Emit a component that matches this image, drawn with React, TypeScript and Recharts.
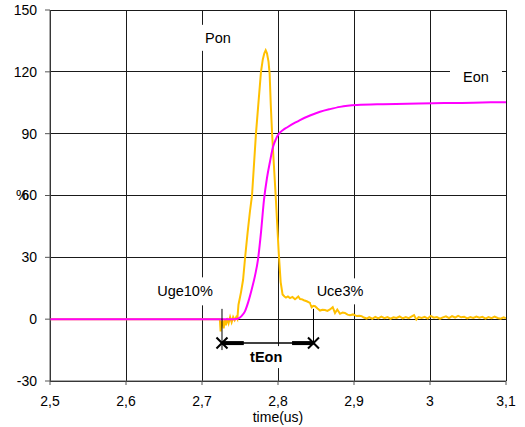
import React from 'react';
import { LineChart, Line, XAxis, YAxis, CartesianGrid, ReferenceLine, ReferenceDot } from 'recharts';

const ponTime = [
  2.5, 2.72, 2.7235, 2.7245, 2.7255, 2.727, 2.7285, 2.73, 2.7315, 2.733, 2.735, 2.737, 2.739, 2.741, 2.743, 2.745,
  2.7465, 2.748, 2.7513, 2.754, 2.757, 2.76, 2.763, 2.7658, 2.771, 2.7745, 2.7776, 2.78, 2.782, 2.7838, 2.7855,
  2.7875, 2.789, 2.7905, 2.7923, 2.797, 2.801, 2.8035, 2.806, 2.8085, 2.8105, 2.813, 2.8158, 2.819, 2.8224, 2.8245,
  2.8267, 2.829, 2.8312, 2.834, 2.8378, 2.8421, 2.8443, 2.8465, 2.8487, 2.852, 2.8553, 2.8585, 2.8618, 2.865, 2.8684,
  2.872, 2.875, 2.878, 2.8816, 2.885, 2.888, 2.8915, 2.8947, 2.8987, 2.9036, 2.907, 2.91, 2.913, 2.9167, 2.92, 2.924,
  2.928, 2.932, 2.936, 2.94, 2.944, 2.948, 2.952, 2.956, 2.96, 2.964, 2.968, 2.972, 2.976, 2.979, 2.982, 2.985, 2.989,
  2.993, 2.997, 3.001, 3.005, 3.009, 3.013, 3.017, 3.021, 3.025, 3.029, 3.033, 3.037, 3.041, 3.045, 3.049, 3.053,
  3.057, 3.061, 3.065, 3.069, 3.073, 3.077, 3.081, 3.085, 3.089, 3.093, 3.097, 3.1,
];
const ponValue = [
  0, 0, 0, -6, -2, -1, -4.5, -0.5, -3, 0.5, -2, 1, -1.5, 1, -0.5, 1,
  0, 7, 13, 19, 31, 42, 52, 60, 90, 106, 120, 126, 129, 130.5, 129,
  125, 119, 104, 89.5, 59.5, 32, 18, 12, 11, 10.5, 11, 10.2, 10.8, 9.7, 10.3,
  11, 9.8, 9.7, 9.2, 8.7, 7.9, 5.8, 6.5, 6.3, 5.2, 4.2, 4.6, 4.4, 4.0, 4.7,
  5.8, 3, 4.7, 2.6, 3.2, 3, 2.2, 1.9, 2.3, 1.5, 1.7, 1.5, 0.8, 0.3, 1.0, 0.2,
  1.1, 0.4, 1.2, 0.5, 1.0, 0.2, 0.9, 0.6, 1.3, 0.4, 1.0, 0.5, 1.4, 2.0, -0.2, 1.0, 0.6,
  1.1, 0.3, 1.6, 0.7, 1.0, 0.2, 0.9, 1.4, 0.5, 1.5, 0.8, 1.6, 0.9, 1.2, 0.4, 1.0,
  0.6, 1.3, 0.7, 1.1, 0.3, 1.0, 0.5, 1.2, 0.6, 0.2, 0.9, 0.4,
];

const eonTime = [
  2.5, 2.743, 2.748, 2.752, 2.7565, 2.761, 2.7658, 2.7697, 2.7737, 2.7776, 2.7816, 2.7855, 2.7895, 2.7934,
  2.7974, 2.8013, 2.8066, 2.8118, 2.8224, 2.8289, 2.8421, 2.8553, 2.8684, 2.8816, 2.9039, 2.938, 2.97, 3.004,
  3.03, 3.0566, 3.08, 3.1,
];
const eonValue = [
  0, 0, 0.4, 1.5, 3.8, 8.5, 15, 21, 29, 42, 58, 68.5, 76.5, 83.5,
  87.5, 90, 91.8, 93, 95.3, 96.6, 98.8, 100.6, 101.9, 103, 103.9, 104.3, 104.5, 104.8,
  104.9, 105, 105.2, 105.3,
];

const xTicks = [2.5, 2.6, 2.7, 2.8, 2.9, 3.0, 3.1];
const yTicks = [-30, 0, 30, 60, 90, 120, 150];

// annotation texts and where they sit (data units)
const annotationTexts = ['Pon', 'Eon', 'Uge10%', 'Uce3%', 'tEon'];
const annotationT = [2.721, 3.0605, 2.6776, 2.8816, 2.7845];
const annotationV = [136.5, 117.6, 13.5, 13.5, -18.4];

// tEon measurement markers
const tEonStart = 2.7263;
const tEonEnd = 2.8467;
const markerLevel = -11.6;
const markerTop = 5;
const markerBottomLeft = -15;
const arrowHeadLeftEnd = 2.755;
const arrowHeadRightStart = 2.8185;

const ponData = ponTime.map((t, i) => ({ t, v: ponValue[i] }));
const eonData = eonTime.map((t, i) => ({ t, v: eonValue[i] }));

const FONT = '"Liberation Sans", Arial, sans-serif';

const boxSizes: Record<string, [number, number]> = {
  Pon: [36, 26],
  Eon: [52, 26],
  'Uge10%': [66, 28],
  'Uce3%': [58, 26],
  tEon: [46, 22],
};

const makeLabelShape = (text: string) => (props: any) => {
  const { cx, cy } = props;
  const [w, h] = boxSizes[text];
  const bold = text === 'tEon';
  return (
    <g>
      <rect x={cx - w / 2} y={cy - h / 2} width={w} height={h} fill="#ffffff" />
      <text
        x={cx}
        y={cy}
        textAnchor="middle"
        dominantBaseline="central"
        fontSize={14.5}
        fontWeight={bold ? 'bold' : 'normal'}
        fontFamily={FONT}
        fill="#000"
      >
        {text}
      </text>
    </g>
  );
};

const crossShape = (props: any) => {
  const { cx, cy } = props;
  const s = 5.5;
  return (
    <g stroke="#000" strokeWidth={2}>
      <line x1={cx - s} y1={cy - s} x2={cx + s} y2={cy + s} />
      <line x1={cx - s} y1={cy + s} x2={cx + s} y2={cy - s} />
    </g>
  );
};

const fmtX = (v: number) => String(Math.round(v * 10) / 10).replace('.', ',');

export default function App() {
  return (
    <div style={{ position: 'absolute', top: 0, left: 0, width: 525, height: 427, background: '#fff' }}>
      <LineChart width={525} height={427} margin={{ top: 10, right: 19, bottom: 0, left: 0 }} style={{ overflow: 'visible' }}>
        <CartesianGrid stroke="#1a1a1a" strokeWidth={1} shapeRendering="crispEdges" horizontalValues={yTicks} verticalValues={xTicks} />
        <XAxis
          type="number"
          dataKey="t"
          domain={[2.5, 3.1]}
          ticks={xTicks}
          interval={0}
          allowDataOverflow
          tickFormatter={fmtX}
          height={46}
          tickSize={4}
          tickMargin={11}
          stroke="#555"
          tick={{ fill: '#000', fontSize: 14, fontFamily: FONT }}
          label={{ value: 'time(us)', position: 'insideBottom', offset: 5, fill: '#000', fontSize: 14, fontFamily: FONT }}
        />
        <YAxis
          type="number"
          domain={[-30, 150]}
          ticks={yTicks}
          interval={0}
          allowDataOverflow
          width={50}
          tickSize={5}
          tickMargin={8}
          stroke="#555"
          tick={{ fill: '#000', fontSize: 14, fontFamily: FONT }}
          label={{ value: '%', position: 'insideLeft', offset: 16, fill: '#000', fontSize: 14, fontFamily: FONT }}
        />
        <Line data={ponData} dataKey="v" type="linear" stroke="#FFC000" strokeWidth={2} dot={false} isAnimationActive={false} />
        <Line data={eonData} dataKey="v" type="monotone" stroke="#FF00FF" strokeWidth={2} dot={false} isAnimationActive={false} />

        <ReferenceLine segment={[{ x: tEonStart, y: markerTop }, { x: tEonStart, y: markerBottomLeft }]} stroke="#000" strokeWidth={1} />
        <ReferenceLine segment={[{ x: tEonEnd, y: markerTop }, { x: tEonEnd, y: markerLevel }]} stroke="#000" strokeWidth={1} />
        <ReferenceLine segment={[{ x: tEonStart, y: markerLevel }, { x: tEonEnd, y: markerLevel }]} stroke="#000" strokeWidth={1.5} />
        <ReferenceLine segment={[{ x: tEonStart, y: markerLevel }, { x: arrowHeadLeftEnd, y: markerLevel }]} stroke="#000" strokeWidth={4} />
        <ReferenceLine segment={[{ x: arrowHeadRightStart, y: markerLevel }, { x: tEonEnd, y: markerLevel }]} stroke="#000" strokeWidth={4} />
        <ReferenceDot x={tEonStart} y={markerLevel} r={6} shape={crossShape} />
        <ReferenceDot x={tEonEnd} y={markerLevel} r={6} shape={crossShape} />

        {annotationTexts.map((txt, i) => (
          <ReferenceDot key={txt} x={annotationT[i]} y={annotationV[i]} r={1} shape={makeLabelShape(txt)} />
        ))}
      </LineChart>
    </div>
  );
}
